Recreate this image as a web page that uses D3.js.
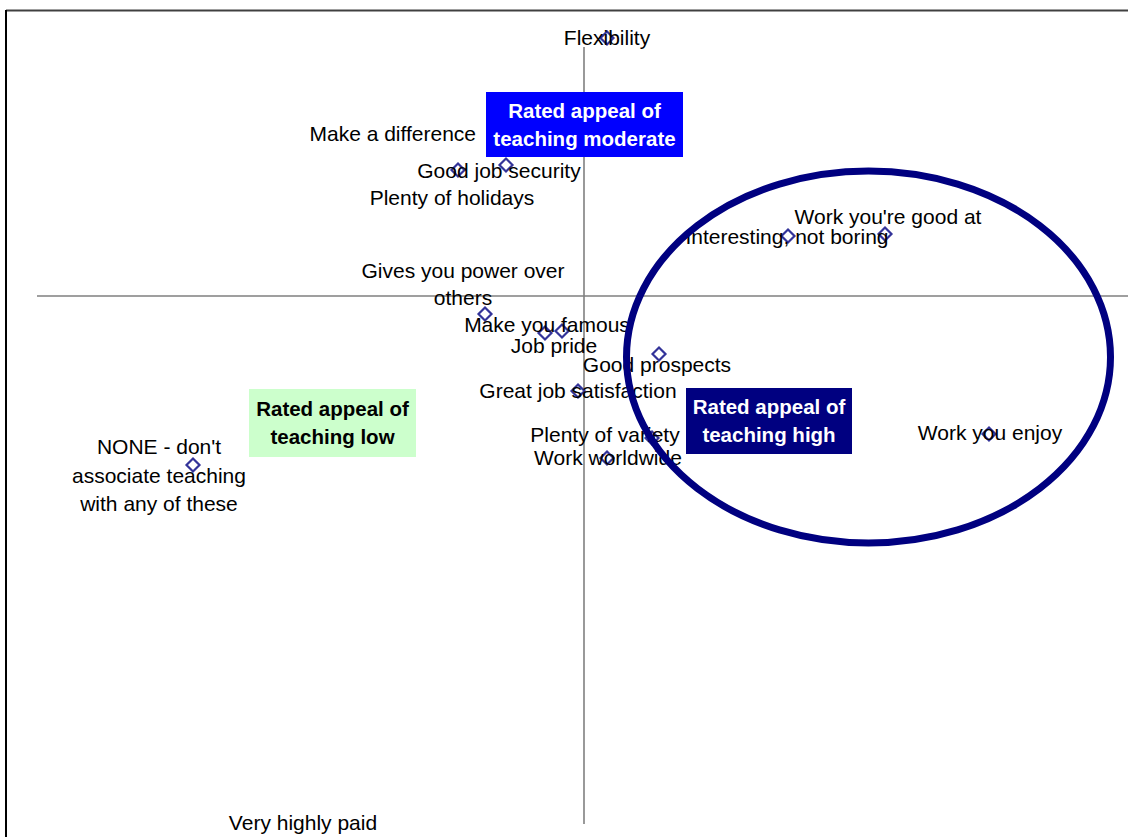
<!DOCTYPE html>
<html>
<head>
<meta charset="utf-8">
<script src="https://cdn.jsdelivr.net/npm/d3@7"></script>
<style>
  html, body { margin: 0; padding: 0; background: #fff; }
  svg { display: block; }
  text { font-family: "Liberation Sans", Arial, sans-serif; }
</style>
</head>
<body>
<svg id="chart" width="1128" height="837"></svg>
<script>
// ---- Data (perceptual map coordinates) ----
const attributes = [
  "Flexibility", "Make a difference", "Good job security", "Plenty of holidays",
  "Gives you power over others", "Make you famous", "Job pride", "Good prospects",
  "Great job satisfaction", "Plenty of variety", "Work worldwide",
  "Interesting, not boring", "Work you're good at", "Work you enjoy",
  "NONE - don't associate teaching with any of these", "Very highly paid"
];
const xValues = [0.23, -0.50, -0.78, -1.26, -0.99, -0.22, -0.39, 0.75, -0.06, 0.68, 0.23, 2.04, 3.01, 4.05, -3.91, -2.81];
const yValues = [2.58, 1.55, 1.31, 1.26, -0.18, -0.35, -0.37, -0.58, -0.95, -1.42, -1.62, 0.60, 0.62, -1.38, -1.69, -5.54];
const labelLines = [
  ["Flexibility"], ["Make a difference"], ["Good job security"], ["Plenty of holidays"],
  ["Gives you power over", "others"], ["Make you famous"], ["Job pride"], ["Good prospects"],
  ["Great job satisfaction"], ["Plenty of variety"], ["Work worldwide"],
  ["Interesting, not boring"], ["Work you're good at"], ["Work you enjoy"],
  ["NONE - don't", "associate teaching", "with any of these"], ["Very highly paid"]
];
// segment boxes (label, centre in data units)
const segmentNames = [["Rated appeal of", "teaching moderate"], ["Rated appeal of", "teaching low"], ["Rated appeal of", "teaching high"]];
const segmentX = [0.005, -2.515, 1.85];
const segmentY = [1.715, -1.27, -1.25];

// ---- Layout / style (not data) ----
const labelOffsets = [ // px offsets of label center from marker, anchors
  {dx: 0, dy: 0}, {dx: -58, dy: -7, anchor: "end"}, {dx: -7, dy: 6}, {dx: -6, dy: 28},
  {dx: -22, dy: -43}, {dx: -15, dy: -6}, {dx: 9, dy: 13}, {dx: -2, dy: 11},
  {dx: 0, dy: 0}, {dx: -47, dy: -3}, {dx: 1, dy: 0},
  {dx: -1, dy: 1}, {dx: 3, dy: -17}, {dx: 1, dy: -1},
  {dx: -34, dy: -18}, {dx: 0, dy: -27}
];
const lineHeights = [0, 0, 0, 0, 27, 0, 0, 0, 0, 0, 0, 0, 0, 0, 28.5, 0];
const segmentSizes = [[197, 65], [167, 68], [166, 66]];
const segmentFill = ["#0000FF", "#CCFFCC", "#000080"];
const segmentText = ["#FFFFFF", "#000000", "#FFFFFF"];

const svg = d3.select("#chart");
const x = d3.scaleLinear().domain([-5.78, 5.44]).range([6, 1128]);
const y = d3.scaleLinear().domain([2.86, -5.41]).range([10, 837]);

// frame
svg.append("line").attr("x1", 6).attr("x2", 1128).attr("y1", y(2.855)).attr("y2", y(2.855))
  .attr("stroke", "#404040").attr("stroke-width", 2);
svg.append("line").attr("x1", 6).attr("x2", 6).attr("y1", 10).attr("y2", 837)
  .attr("stroke", "#000").attr("stroke-width", 2);

// axes through origin
svg.append("line").attr("x1", x(-5.47)).attr("x2", 1128).attr("y1", y(0)).attr("y2", y(0))
  .attr("stroke", "#404040").attr("stroke-width", 1.2);
svg.append("line").attr("x1", x(0)).attr("x2", x(0)).attr("y1", y(2.49)).attr("y2", y(-5.28))
  .attr("stroke", "#808080").attr("stroke-width", 1.6);

// markers
const pts = attributes.map((a, i) => ({name: a, x: xValues[i], y: yValues[i], lines: labelLines[i], off: labelOffsets[i], lh: lineHeights[i]}));
const diamond = "M0,-6.5L6.5,0L0,6.5L-6.5,0Z";
svg.append("g").selectAll("path").data(pts).join("path")
  .attr("d", diamond)
  .attr("transform", d => `translate(${x(d.x)},${y(d.y)})`)
  .attr("fill", "none").attr("stroke", "#333399").attr("stroke-width", 2.2);

// labels
const lg = svg.append("g");
pts.forEach(d => {
  const cx = x(d.x) + d.off.dx;
  const cy = y(d.y) + d.off.dy;
  const t = lg.append("text")
    .attr("x", cx).attr("y", cy)
    .attr("text-anchor", d.off.anchor || "middle")
    .attr("font-size", 21).attr("fill", "#000");
  d.lines.forEach((ln, j) => {
    t.append("tspan").attr("x", cx).attr("y", cy + j * d.lh).attr("dy", "0.35em").text(ln);
  });
});

// segment boxes
segmentNames.forEach((lines, i) => {
  const cx = x(segmentX[i]), cy = y(segmentY[i]);
  const [w, h] = segmentSizes[i];
  svg.append("rect").attr("x", cx - w / 2).attr("y", cy - h / 2).attr("width", w).attr("height", h)
    .attr("fill", segmentFill[i]);
  const t = svg.append("text").attr("text-anchor", "middle").attr("font-size", 20.5)
    .attr("font-weight", "bold").attr("fill", segmentText[i]);
  lines.forEach((ln, j) => {
    t.append("tspan").attr("x", cx).attr("y", cy + (j - 0.5) * 28).attr("dy", "0.35em").text(ln);
  });
});

// ellipse around the "high" segment
svg.append("ellipse").attr("cx", x(2.845)).attr("cy", y(-0.61))
  .attr("rx", x(2.42) - x(0)).attr("ry", y(0) - y(1.86))
  .attr("fill", "none").attr("stroke", "#000080").attr("stroke-width", 7);
</script>
</body>
</html>
